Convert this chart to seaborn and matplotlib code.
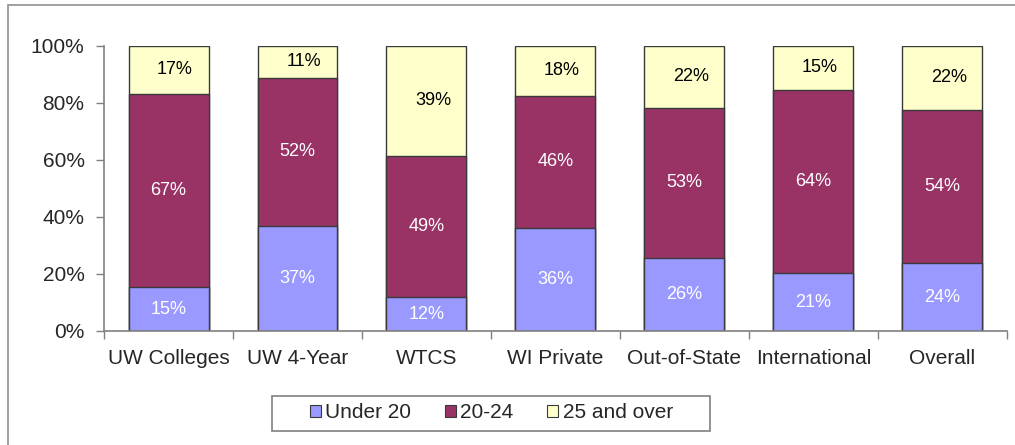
import seaborn as sns
import pandas as pd
import numpy as np
import matplotlib.pyplot as plt
from matplotlib.patches import Patch, Rectangle
from matplotlib.ticker import FixedLocator, FuncFormatter

# Datos del grafico
categories = ["UW Colleges", "UW 4-Year", "WTCS", "WI Private", "Out-of-State", "International", "Overall"]
under20 = [15.2, 36.8, 11.7, 36.1, 25.6, 20.1, 23.6]
age20_24 = [67.8, 51.9, 49.6, 46.3, 52.5, 64.3, 53.8]
over25 = [17.0, 11.3, 38.7, 17.6, 21.9, 15.6, 22.6]
lbl_under20 = ["15%", "37%", "12%", "36%", "26%", "21%", "24%"]
lbl_20_24 = ["67%", "52%", "49%", "46%", "53%", "64%", "54%"]
lbl_over25 = ["17%", "11%", "39%", "18%", "22%", "15%", "22%"]
series = ["Under 20", "20-24", "25 and over"]

sns.set_style("white")
plt.rcParams['font.family'] = ['Liberation Sans', 'DejaVu Sans']

df = pd.DataFrame({"cat": categories, "u": under20, "m": age20_24, "o": over25})
df["c1"] = df["u"]
df["c2"] = df["u"] + df["m"]
df["c3"] = df["c2"] + df["o"]

colors = ["#9999FF", "#993366", "#FFFFCC"]
edge = "#3a3a3a"

fig = plt.figure(figsize=(10.15, 4.45), dpi=100)
ax = fig.add_axes([0.1025, 0.2569, 0.8895, 0.6404])

# barras acumuladas, de atras hacia adelante
for col, c in zip(["c3", "c2", "c1"], colors[::-1]):
    sns.barplot(data=df, x="cat", y=col, color=c, saturation=1, width=0.62,
                edgecolor=edge, linewidth=1, ax=ax)

# etiquetas
for i in range(len(categories)):
    u, m, o = under20[i], age20_24[i], over25[i]
    ax.text(i, u / 2, lbl_under20[i], ha="center", va="center", color="white", fontsize=13)
    ax.text(i, u + m / 2, lbl_20_24[i], ha="center", va="center", color="white", fontsize=13)
    ax.text(i + 0.05, u + m + o / 2, lbl_over25[i], ha="center", va="center", color="black", fontsize=13)

ax.set_xlim(-0.5, len(categories) - 0.5)
ax.set_ylim(0, 100)
ax.set_xlabel("")
ax.set_ylabel("")
ax.set_yticks(np.arange(0, 101, 20))
ax.yaxis.set_major_formatter(FuncFormatter(lambda v, p: "%d%%" % v))
ax.tick_params(axis="y", direction="out", length=6, width=1, color="#808080",
               labelsize=15, pad=8, left=True)
ax.xaxis.set_minor_locator(FixedLocator(np.arange(-0.5, len(categories), 1)))
ax.tick_params(axis="x", which="major", length=0, labelsize=15, pad=13)
ax.tick_params(axis="x", which="minor", direction="out", length=6, width=1,
               color="#808080", bottom=True)
for s in ["top", "right"]:
    ax.spines[s].set_visible(False)
for s in ["left", "bottom"]:
    ax.spines[s].set_color("#808080")
    ax.spines[s].set_linewidth(1.2)

handles = [Patch(facecolor=c, edgecolor=edge, linewidth=0.8) for c in colors]
leg = fig.legend(handles, series, loc="center", bbox_to_anchor=(0.484, 0.072), ncol=3,
                 fontsize=15, frameon=False, handlelength=0.55,
                 handleheight=0.55, handletextpad=0.2, columnspacing=1.6,
                 borderpad=0.3)

# marco de la leyenda
fig.patches.append(Rectangle((271.7 / 1015, (445 - 430.7) / 445), 438.3 / 1015, 34.7 / 445,
                             transform=fig.transFigure, fill=False,
                             edgecolor="#808080", linewidth=1.2))

# marco exterior
fig.patches.append(Rectangle((0.0079, -0.05), 1.2, 0.9888 + 0.05, transform=fig.transFigure,
                             fill=False, edgecolor="#909090", linewidth=1.2))

fig.savefig("out.png", dpi=100)
